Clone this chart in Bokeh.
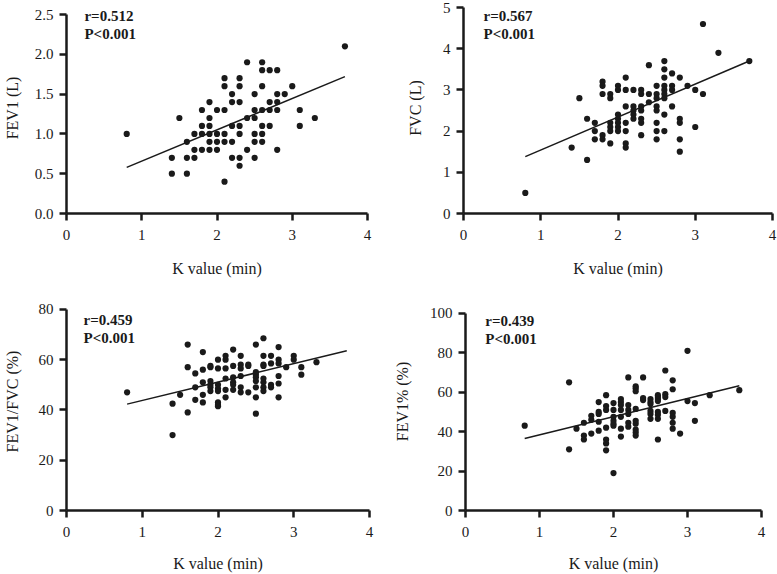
from bokeh.plotting import figure
from bokeh.layouts import column, row
from bokeh.models import Label, FixedTicker, Range1d, NumeralTickFormatter
from bokeh.embed import file_html
from bokeh.resources import INLINE

# ---------------- data ----------------
fev1_k = [0.8, 3.7, 1.5, 1.4, 1.4, 1.6, 1.6, 1.6, 1.7, 1.7, 1.7,
          1.8, 1.8, 1.8, 1.8, 1.9, 1.9, 1.9, 1.9, 1.9, 1.9,
          2.0, 2.0, 2.0, 2.0, 2.1, 2.1, 2.1, 2.1, 2.1, 2.1,
          2.2, 2.2, 2.2, 2.2, 2.2, 2.3, 2.3, 2.3, 2.3, 2.3, 2.3, 2.3,
          2.4, 2.4, 2.4, 2.5, 2.5, 2.5, 2.5, 2.5, 2.5,
          2.6, 2.6, 2.6, 2.6, 2.6, 2.6, 2.6, 2.7, 2.7, 2.7, 2.7,
          2.8, 2.8, 2.8, 2.8, 2.8, 2.9, 3.0, 3.1, 3.1, 3.3]
fev1_v = [1.0, 2.1, 1.2, 0.7, 0.5, 0.5, 0.7, 0.9, 0.7, 0.8, 1.0,
          1.3, 1.1, 1.0, 0.8, 1.4, 1.2, 1.1, 1.0, 0.9, 0.8,
          1.3, 1.0, 0.9, 0.8, 1.7, 1.6, 1.3, 1.0, 0.9, 0.4,
          1.5, 1.4, 1.1, 0.9, 0.7, 1.7, 1.6, 1.4, 1.1, 1.0, 0.7, 0.6,
          1.9, 1.2, 0.8, 1.5, 1.3, 1.2, 1.0, 0.9, 0.7,
          1.9, 1.8, 1.6, 1.3, 1.1, 1.0, 0.9, 1.8, 1.4, 1.3, 1.1,
          1.8, 1.5, 1.4, 1.3, 0.8, 1.5, 1.6, 1.3, 1.1, 1.2]
fev1_fit_x = [0.8, 3.7]
fev1_fit_y = [0.58, 1.72]
fev1_ticks = [0, 0.5, 1.0, 1.5, 2.0, 2.5]

fvc_k = [0.8, 3.1, 3.3, 3.7, 2.4, 1.5, 1.4, 1.6, 1.6,
         1.7, 1.7, 1.7, 1.8, 1.8, 1.8, 1.8, 1.8,
         1.9, 1.9, 1.9, 1.9, 1.9, 1.9,
         2.0, 2.0, 2.0, 2.0, 2.0, 2.0, 2.0,
         2.1, 2.1, 2.1, 2.1, 2.1, 2.1, 2.1,
         2.2, 2.2, 2.2, 2.2, 2.2,
         2.3, 2.3, 2.3, 2.3, 2.3, 2.3, 2.3, 2.4, 2.4,
         2.5, 2.5, 2.5, 2.5, 2.5, 2.5, 2.5, 2.5,
         2.6, 2.6, 2.6, 2.6, 2.6, 2.6, 2.6, 2.6, 2.6,
         2.7, 2.7, 2.7, 2.7, 2.8, 2.8, 2.8, 2.8, 2.8,
         2.9, 3.0, 3.0, 3.1]
fvc_v = [0.5, 4.6, 3.9, 3.7, 3.6, 2.8, 1.6, 2.3, 1.3,
         2.2, 2.0, 1.8, 3.2, 3.1, 2.9, 1.9, 1.8,
         2.9, 2.8, 2.2, 2.1, 2.0, 1.7,
         3.1, 3.0, 2.4, 2.3, 2.2, 2.1, 2.0,
         3.3, 3.0, 2.6, 2.2, 2.0, 1.7, 1.6,
         3.0, 2.6, 2.5, 2.4, 2.3,
         3.0, 2.9, 2.6, 2.5, 2.3, 2.2, 1.9, 2.9, 2.7,
         3.1, 2.9, 2.8, 2.6, 2.5, 2.2, 2.0, 1.8,
         3.7, 3.5, 3.3, 3.1, 3.0, 2.9, 2.8, 2.4, 2.0,
         3.4, 3.1, 3.0, 2.6, 3.3, 2.3, 2.2, 1.8, 1.5,
         3.1, 3.0, 2.1, 2.9]
fvc_fit_x = [0.8, 3.7]
fvc_fit_y = [1.38, 3.7]
fvc_ticks = [0, 1, 2, 3, 4, 5]

ratio_k = [0.8, 1.4, 1.4, 1.5, 1.6, 1.6, 1.6, 1.7, 1.7, 1.7,
           1.8, 1.8, 1.8, 1.8, 1.8, 1.9, 1.9, 1.9, 1.9, 1.9, 1.9,
           2.0, 2.0, 2.0, 2.0, 2.0, 2.0, 2.0, 2.0,
           2.1, 2.1, 2.1, 2.1, 2.1, 2.1,
           2.2, 2.2, 2.2, 2.2, 2.2, 2.2,
           2.3, 2.3, 2.3, 2.3, 2.3, 2.3, 2.4, 2.4, 2.4,
           2.5, 2.5, 2.5, 2.5, 2.5, 2.5, 2.5, 2.5,
           2.6, 2.6, 2.6, 2.6, 2.6, 2.6, 2.6, 2.6,
           2.7, 2.7, 2.7, 2.7, 2.8, 2.8, 2.8, 2.8, 2.8, 2.8,
           2.9, 3.0, 3.0, 3.1, 3.1, 3.3]
ratio_v = [47, 30, 42.5, 46, 66, 57, 39, 54.5, 49, 44,
           63, 56, 51, 46, 43, 57.5, 57, 51.5, 50, 49, 47.5,
           60, 56.5, 50, 48.5, 47.5, 43, 42, 41.5,
           61.5, 60, 56.5, 52.5, 48, 45,
           64, 57.5, 53, 51, 50, 48,
           61.5, 58, 56.5, 53.5, 49, 47, 58, 57.5, 47,
           66, 55, 54, 53, 51.5, 49, 45, 38.5,
           68.5, 61.5, 58, 57.5, 52.5, 51, 49, 47.5,
           61.5, 58.5, 50, 49, 65, 60, 58.5, 53.5, 50.5, 45,
           57, 61.5, 60, 57, 54, 59]
ratio_fit_x = [0.8, 3.7]
ratio_fit_y = [42.3, 63.5]
ratio_ticks = [0, 20, 40, 60, 80]

pct_k = [0.8, 1.4, 1.4, 1.5, 1.6, 1.6, 1.6, 1.7, 1.7, 1.7,
         1.8, 1.8, 1.8, 1.8, 1.8, 1.9, 1.9, 1.9, 1.9, 1.9, 1.9, 1.9,
         2.0, 2.0, 2.0, 2.0, 2.0, 2.0, 2.0,
         2.1, 2.1, 2.1, 2.1, 2.1, 2.1, 2.1,
         2.2, 2.2, 2.2, 2.2, 2.2, 2.2,
         2.3, 2.3, 2.3, 2.3, 2.3, 2.3, 2.3, 2.3, 2.3,
         2.4, 2.4, 2.4, 2.5, 2.5, 2.5, 2.5, 2.5, 2.5,
         2.6, 2.6, 2.6, 2.6, 2.6, 2.6, 2.6, 2.6,
         2.7, 2.7, 2.7, 2.7, 2.8, 2.8, 2.8, 2.8, 2.8, 2.8,
         2.9, 3.0, 3.0, 3.1, 3.1, 3.3, 3.7]
pct_v = [43, 65, 31, 41.5, 44.5, 38, 36, 48, 46, 39,
         55, 50, 49, 45, 40.5, 58.5, 53, 51, 42, 36, 34, 30.5,
         54.5, 51, 47.5, 45.5, 44, 43, 19,
         56.5, 55, 53.5, 51, 47.5, 41.5, 37.5,
         67.5, 53.5, 51, 49, 44.5, 42.5,
         63, 62, 60.5, 51.5, 45.5, 44, 41, 39.5, 38,
         67.5, 57, 56, 56.5, 55, 54, 50.5, 49, 46.5,
         58.5, 57.5, 56.5, 55.5, 50, 48.5, 46.5, 36,
         71, 59, 57.5, 50.5, 66, 61.5, 49.5, 47.5, 44.5, 41.5,
         39, 81, 55.5, 54.5, 45.5, 58.5, 61]
pct_fit_x = [0.8, 3.7]
pct_fit_y = [36.5, 63.3]
pct_ticks = [0, 20, 40, 60, 80, 100]

x_ticks = [0, 1, 2, 3, 4]
x_label = "K value (min)"

FONT = "Liberation Serif"
INK = "#1a1a1a"


def panel(xs, ys, fx, fy, ylabel, yticks, yfmt, r_text, p_text, size, geom,
          ylab_standoff, xlab_standoff):
    """geom: frame left, frame right, top-tick y, bottom-axis y,
    text left offset, r-line centre y, P-line centre y (all pixels in figure)."""
    width, height = size
    fl, fr, ytop_px, ybot_px, tdx, ry, py = geom
    frame_top = 2
    y0, y1 = yticks[0], yticks[-1]
    per_px = (y1 - y0) / (ybot_px - ytop_px)
    y_end = y0 + per_px * (ybot_px - frame_top)
    x0, x1 = x_ticks[0], x_ticks[-1]
    xper_px = (x1 - x0) / (fr - fl)

    p = figure(width=width, height=height, output_backend="svg",
               toolbar_location=None,
               x_range=Range1d(x0, x1), y_range=Range1d(y0, y_end),
               min_border_left=fl, min_border_right=width - fr,
               min_border_top=frame_top, min_border_bottom=height - ybot_px)
    p.outline_line_color = None
    p.grid.visible = False
    p.background_fill_color = "white"
    p.border_fill_color = "white"

    p.line(fx, fy, line_color=INK, line_width=1.5)
    p.scatter(xs, ys, size=6.2, fill_color=INK, line_color=INK, line_width=0)

    for ax in (p.xaxis[0], p.yaxis[0]):
        ax.axis_line_width = 2.5
        ax.axis_line_color = INK
        ax.major_tick_line_width = 2.5
        ax.major_tick_line_color = INK
        ax.major_tick_in = 0
        ax.major_tick_out = 7
        ax.minor_tick_line_color = None
        ax.major_label_text_font = FONT
        ax.major_label_text_font_size = "15px"
        ax.major_label_text_color = INK
        ax.axis_label_text_font = FONT
        ax.axis_label_text_font_size = "16px"
        ax.axis_label_text_font_style = "normal"
        ax.axis_label_text_color = INK

    p.xaxis.ticker = FixedTicker(ticks=x_ticks)
    p.xaxis.axis_label = x_label
    p.xaxis.major_label_standoff = 9
    p.xaxis.axis_label_standoff = xlab_standoff

    p.yaxis.ticker = FixedTicker(ticks=yticks)
    p.yaxis.bounds = (y0, y1)
    p.yaxis.formatter = NumeralTickFormatter(format=yfmt)
    p.yaxis.axis_label = ylabel
    p.yaxis.major_label_standoff = 6
    p.yaxis.axis_label_standoff = ylab_standoff

    tx = x0 + tdx * xper_px
    for txt, cy in ((r_text, ry), (p_text, py)):
        p.add_layout(Label(x=tx, y=y0 + per_px * (ybot_px - cy), text=txt,
                           text_font=FONT, text_font_size="15px",
                           text_font_style="bold", text_color=INK,
                           text_baseline="middle", text_align="left"))
    return p


p1 = panel(fev1_k, fev1_v, fev1_fit_x, fev1_fit_y, "FEV1 (L)",
           fev1_ticks, "0.0", "r=0.512", "P<0.001",
           (390, 290), (65, 367, 14, 213, 18, 15, 33), 11, 17)
p2 = panel(fvc_k, fvc_v, fvc_fit_x, fvc_fit_y, "FVC (L)",
           fvc_ticks, "0", "r=0.567", "P<0.001",
           (387, 290), (73, 382, 7, 213, 20, 15, 33), 16, 17)
p3 = panel(ratio_k, ratio_v, ratio_fit_x, ratio_fit_y, "FEV1/FVC (%)",
           ratio_ticks, "0", "r=0.459", "P<0.001",
           (390, 284), (66, 369, 19, 222, 17, 30, 48), 15, 15)
p4 = panel(pct_k, pct_v, pct_fit_x, pct_fit_y, "FEV1% (%)",
           pct_ticks, "0", "r=0.439", "P<0.001",
           (387, 284), (73, 371, 23, 222, 20, 31, 49), 16, 15)

layout = column(row(p1, p2), row(p3, p4))

with open("out.html", "w") as f:
    f.write(file_html(layout, INLINE))
